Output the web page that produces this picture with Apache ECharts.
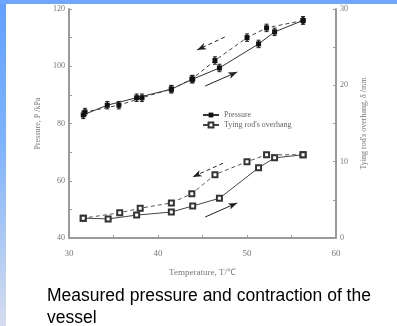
<!DOCTYPE html>
<html>
<head>
<meta charset="utf-8">
<script src="https://cdn.jsdelivr.net/npm/echarts@6/dist/echarts.min.js"></script>
<style>
  html, body { margin: 0; padding: 0; background: #fff; }
  #leftbar { position: absolute; left: 0; top: 0; width: 6px; height: 326px;
             background: linear-gradient(#62a0ff, #7fb4fb 45%, #d6dcee); }
  #topbar { position: absolute; left: 0; top: 0; width: 397px; height: 4px; background: #6ea7ff; }
  #chart { position: absolute; left: 0; top: 0; width: 397px; height: 326px; }
</style>
</head>
<body>
<div id="leftbar"></div>
<div id="topbar"></div>
<div id="chart"></div>
<script>
// 温度 T (℃) 与压力 P (kPa)，升温 / 降温
var tHeat      = [31.6, 34.3, 37.6, 41.5, 43.9, 46.9, 51.3, 53.1, 56.3];
var pHeat      = [83.0, 86.4, 89.0, 92.0, 95.5, 99.4, 107.8, 112.0, 116.0];
var tCool      = [56.3, 52.2, 50.0, 46.4, 43.8, 41.5, 38.2, 35.6, 31.8];
var pCool      = [116.0, 113.4, 110.0, 102.0, 95.5, 92.0, 89.0, 86.4, 84.0];
var pErr       = 1.3;

// 拉杆伸出量 δ (mm)
var tRodHeat   = [31.6, 34.4, 37.6, 41.5, 43.9, 46.9, 51.3, 53.1, 56.3];
var dHeat      = [2.6, 2.5, 3.0, 3.4, 4.2, 5.2, 9.2, 10.5, 10.9];
var tRodCool   = [56.3, 52.2, 50.0, 46.4, 43.8, 41.5, 38.0, 35.7, 31.6];
var dCool      = [10.9, 10.9, 10.0, 8.3, 5.8, 4.6, 3.9, 3.3, 2.6];

// 箭头 [T1, v1, T2, v2]
var arrowPCool = [47.5, 110.2, 44.4, 105.7];
var arrowPHeat = [45.3, 93.1, 48.9, 98.0];
var arrowDCool = [47.3, 9.8, 43.9, 8.0];
var arrowDHeat = [45.3, 2.75, 48.9, 4.6];

var xTicks = [30, 60, 10];
var pTicks = [40, 120, 20];
var dTicks = [0, 30, 10];

var caption = 'Measured pressure and contraction of the\nvessel';

function pairs(xs, ys){
    var out = [];
    for (var i = 0; i < xs.length; i++) out.push([xs[i], ys[i]]);
    return out;
}
function arrowLine(a, dashed){
    return {
        silent: true, symbol: ['none', 'arrow'], symbolSize: [5, 9],
        label: { show: false },
        lineStyle: { color: '#222', width: 1, type: dashed ? [4, 3] : 'solid' },
        data: [[{ coord: [a[0], a[1]] }, { coord: [a[2], a[3]] }]]
    };
}

var serif = 'Liberation Serif';
var axisCol = '#9a9a9a';
var txtCol = '#777';

var chart = echarts.init(document.getElementById('chart'));
var errData = pairs(tHeat, pHeat).concat(pairs(tCool, pCool));

chart.setOption({
    animation: false,
    title: {
        text: caption, left: 42, top: 280,
        textStyle: { fontFamily: 'Liberation Sans', fontSize: 17.5, fontWeight: 'normal', color: '#000', lineHeight: 22 }
    },
    grid: { left: 69, right: 61, top: 9, bottom: 88 },
    legend: {
        left: 197, top: 106, orient: 'vertical', itemGap: 2, itemWidth: 16, itemHeight: 6,
        textStyle: { fontFamily: serif, fontSize: 8, color: '#666' },
        data: ['Pressure', "Tying rod's overhang"]
    },
    xAxis: {
        type: 'value', min: xTicks[0], max: xTicks[1], interval: xTicks[2],
        name: 'Temperature, T/℃', nameLocation: 'middle', nameGap: 30,
        nameTextStyle: { fontFamily: serif, fontSize: 9, color: txtCol },
        axisLine: { lineStyle: { color: axisCol, width: 2 } },
        axisTick: { inside: true, length: 3, lineStyle: { color: axisCol } },
        minorTick: { show: true, splitNumber: 2, length: 3, lineStyle: { color: axisCol } },
        axisLabel: { fontFamily: serif, fontSize: 9, color: txtCol, margin: 11 },
        splitLine: { show: false }
    },
    yAxis: [{
        type: 'value', min: pTicks[0], max: pTicks[1], interval: pTicks[2],
        name: 'Pressure, P /kPa', nameLocation: 'middle', nameGap: 26,
        nameTextStyle: { fontFamily: serif, fontSize: 8, color: txtCol },
        axisLine: { show: true, lineStyle: { color: axisCol, width: 2 } },
        axisTick: { show: true, inside: true, length: 3, lineStyle: { color: axisCol } },
        minorTick: { show: true, splitNumber: 2, length: 3, lineStyle: { color: axisCol } },
        axisLabel: { fontFamily: serif, fontSize: 8, color: txtCol, margin: 4 },
        splitLine: { show: false }
    }, {
        type: 'value', min: dTicks[0], max: dTicks[1], interval: dTicks[2],
        name: "Tying rod's overhang, δ /mm", nameLocation: 'middle', nameGap: 24, nameRotate: 90,
        nameTextStyle: { fontFamily: serif, fontSize: 8, color: txtCol },
        axisLine: { show: true, lineStyle: { color: axisCol, width: 2 } },
        axisTick: { show: true, inside: true, length: 3, lineStyle: { color: axisCol } },
        minorTick: { show: true, splitNumber: 2, length: 3, lineStyle: { color: axisCol } },
        axisLabel: { fontFamily: serif, fontSize: 8, color: txtCol, margin: 4 },
        splitLine: { show: false }
    }],
    series: [{
        name: 'Pressure', type: 'line', yAxisIndex: 0, data: pairs(tHeat, pHeat),
        symbol: 'rect', symbolSize: 5, itemStyle: { color: '#111' },
        lineStyle: { color: '#333', width: 1 },
        markLine: arrowLine(arrowPHeat, false)
    }, {
        name: 'Pressure', type: 'line', yAxisIndex: 0, data: pairs(tCool, pCool),
        symbol: 'rect', symbolSize: 5, itemStyle: { color: '#111' },
        lineStyle: { color: '#444', width: 1, type: [4, 3] },
        markLine: arrowLine(arrowPCool, true)
    }, {
        type: 'custom', yAxisIndex: 0, data: errData, silent: true,
        renderItem: function(params, api){
            var lo = api.coord([api.value(0), api.value(1) - pErr]);
            var hi = api.coord([api.value(0), api.value(1) + pErr]);
            return {
                type: 'group', children: [
                    { type: 'line', shape: { x1: lo[0], y1: lo[1], x2: hi[0], y2: hi[1] }, style: { stroke: '#222', lineWidth: 1.5 } },
                    { type: 'line', shape: { x1: lo[0] - 2, y1: lo[1], x2: lo[0] + 2, y2: lo[1] }, style: { stroke: '#222', lineWidth: 1 } },
                    { type: 'line', shape: { x1: hi[0] - 2, y1: hi[1], x2: hi[0] + 2, y2: hi[1] }, style: { stroke: '#222', lineWidth: 1 } }
                ]
            };
        }
    }, {
        name: "Tying rod's overhang", type: 'line', yAxisIndex: 1, data: pairs(tRodHeat, dHeat),
        symbol: 'emptyRect', symbolSize: 5, itemStyle: { color: '#333', borderWidth: 1.3 },
        lineStyle: { color: '#444', width: 1 },
        markLine: arrowLine(arrowDHeat, false)
    }, {
        name: "Tying rod's overhang", type: 'line', yAxisIndex: 1, data: pairs(tRodCool, dCool),
        symbol: 'emptyRect', symbolSize: 5, itemStyle: { color: '#333', borderWidth: 1.3 },
        lineStyle: { color: '#555', width: 1, type: [4, 3] },
        markLine: arrowLine(arrowDCool, true)
    }]
});
</script>
</body>
</html>
